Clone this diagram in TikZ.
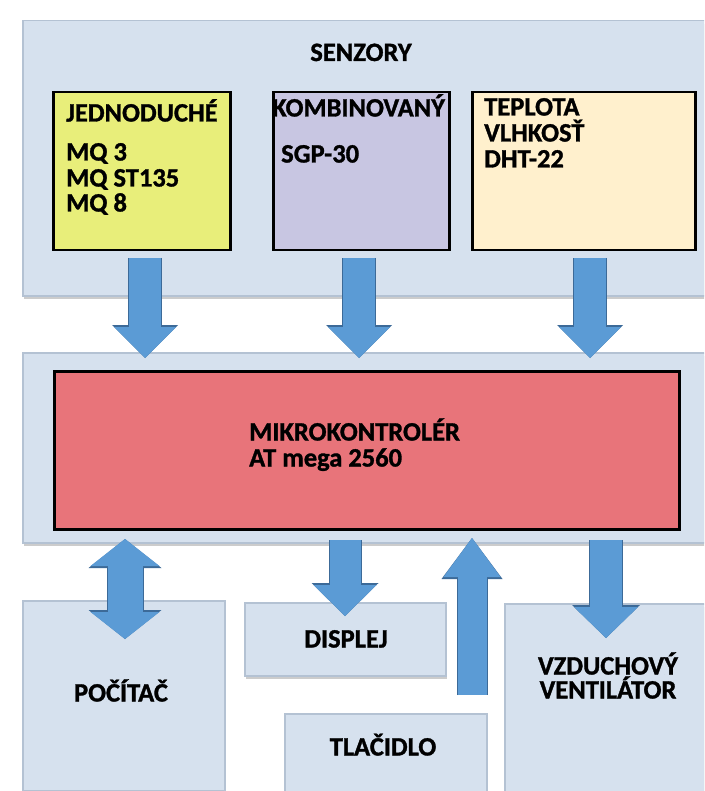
\documentclass[tikz,border=0pt]{standalone}
\usepackage{fontspec}
\setmainfont{Carlito}[BoldFeatures={FakeBold=1.2}]
\usetikzlibrary{arrows.meta,shadows}
\definecolor{panel}{HTML}{D6E1EE}
\definecolor{paneledge}{HTML}{B4C2D3}
\definecolor{yel}{HTML}{E8EE7A}
\definecolor{lav}{HTML}{C8C6E2}
\definecolor{peach}{HTML}{FFF0CD}
\definecolor{redbox}{HTML}{E8747A}
\definecolor{arrblue}{HTML}{5B9BD5}
\definecolor{arredge}{HTML}{3C6A98}
\tikzset{
  panelbox/.style={draw=paneledge, line width=1.5pt, fill=panel, anchor=north west, inner sep=0pt,
    drop shadow={shadow xshift=1pt, shadow yshift=-3pt, opacity=0.4}},
  sensbox/.style={draw=black, line width=2.5pt, anchor=north west, inner sep=0pt},
  lbl/.style={font=\bfseries\fontsize{26.5}{26}\selectfont, inner sep=0pt},
  blockarrow/.style n args={6}{draw=arrblue, line width=#1,
    -{Triangle[width=#2,length=#3,line width=0pt]},
    preaction={draw=arredge, line width=#4, -{Triangle[width=#5,length=#6,line width=0pt]}}},
  dblarrow/.style n args={6}{draw=arrblue, line width=#1,
    {Triangle[width=#2,length=#3,line width=0pt]}-{Triangle[width=#2,length=#3,line width=0pt]},
    preaction={draw=arredge, line width=#4,
      {Triangle[width=#5,length=#6,line width=0pt]}-{Triangle[width=#5,length=#6,line width=0pt]}}}
}
\begin{document}
\begin{tikzpicture}[x=1pt,y=-1pt]
\clip (0,0) rectangle (704,791);
\fill[white] (0,0) rectangle (704,791);

% panels
\node[panelbox, minimum width=700pt, minimum height=275pt] (sens) at (22,20) {};
\node[panelbox, minimum width=700pt, minimum height=190pt] (mcupanel) at (22,352) {};

% sensor boxes
\node[sensbox, fill=yel, minimum width=177pt, minimum height=158pt] (jed) at (52,91) {};
\node[sensbox, fill=lav, minimum width=176pt, minimum height=158pt] (komb) at (272,91) {};
\node[sensbox, fill=peach, minimum width=223pt, minimum height=158pt] (tep) at (471,91) {};

% microcontroller
\node[sensbox, fill=redbox, minimum width=625pt, minimum height=158pt] (mcu) at (53,370) {};

% bottom boxes
\node[panelbox, minimum width=202pt, minimum height=190pt] (pc) at (22,600) {};
\node[panelbox, minimum width=201pt, minimum height=73pt] (disp) at (244,602) {};
\node[panelbox, minimum width=202pt, minimum height=80pt] (btn) at (284,713) {};
\node[panelbox, minimum width=210pt, minimum height=190pt] (fan) at (504,603) {};

% texts
\node[lbl, anchor=base] (tsens) at (361,61) {SENZORY};
\node[lbl, anchor=base west] (tjed) at (66,121.5) {JEDNODUCHÉ};
\node[lbl, anchor=base west] (tmq1) at (66,160.5) {MQ 3};
\node[lbl, anchor=base west] (tmq2) at (66,186.5) {MQ ST135};
\node[lbl, anchor=base west] (tmq3) at (66,211.5) {MQ 8};
\node[lbl, anchor=base west] (tkomb) at (272,116.5) {KOMBINOVANÝ};
\node[lbl, anchor=base west] (tsgp) at (281,162.5) {SGP-30};
\node[lbl, anchor=base west] (ttep) at (484,115.5) {TEPLOTA};
\node[lbl, anchor=base west] (tvl) at (484,141.5) {VLHKOSŤ};
\node[lbl, anchor=base west] (tdht) at (484,167.5) {DHT-22};
\node[lbl, anchor=base west] (tmcu1) at (249,440.5) {MIKROKONTROLÉR};
\node[lbl, anchor=base west] (tmcu2) at (249,466.5) {AT mega 2560};
\node[lbl, anchor=base] (tpc) at (121,701.5) {POČÍTAČ};
\node[lbl, anchor=base] (tdisp) at (346,647.5) {DISPLEJ};
\node[lbl, anchor=base] (tbtn) at (383,755.5) {TLAČIDLO};
\node[lbl, anchor=base] (tfan1) at (608,674.5) {VZDUCHOVÝ};
\node[lbl, anchor=base] (tfan2) at (608,698.5) {VENTILÁTOR};

% arrow end points
\coordinate (s1) at (145,258); \coordinate (e1) at (145,358);
\coordinate (s2) at (359,258); \coordinate (e2) at (359,358);
\coordinate (s3) at (590,258); \coordinate (e3) at (590,358);
\coordinate (spc) at (125,539); \coordinate (epc) at (125,639);
\coordinate (sdisp) at (345,540); \coordinate (edisp) at (345,616);
\coordinate (sbtn) at (472,695); \coordinate (ebtn) at (472,538);
\coordinate (sfan) at (606,540); \coordinate (efan) at (606,638);

% arrows
\draw[blockarrow={32pt}{62pt}{31pt}{34pt}{66pt}{33pt}] (s1) -- (e1);
\draw[blockarrow={32pt}{62pt}{31pt}{34pt}{66pt}{33pt}] (s2) -- (e2);
\draw[blockarrow={32pt}{62pt}{31pt}{34pt}{66pt}{33pt}] (s3) -- (e3);
\draw[dblarrow={35pt}{69pt}{27pt}{37pt}{73pt}{29pt}] (spc) -- (epc);
\draw[blockarrow={31pt}{63pt}{31pt}{33pt}{67pt}{33pt}] (sdisp) -- (edisp);
\draw[blockarrow={29pt}{57pt}{39pt}{31pt}{61pt}{41pt}] (sbtn) -- (ebtn);
\draw[blockarrow={32pt}{64pt}{31pt}{34pt}{68pt}{33pt}] (sfan) -- (efan);
\end{tikzpicture}
\end{document}
